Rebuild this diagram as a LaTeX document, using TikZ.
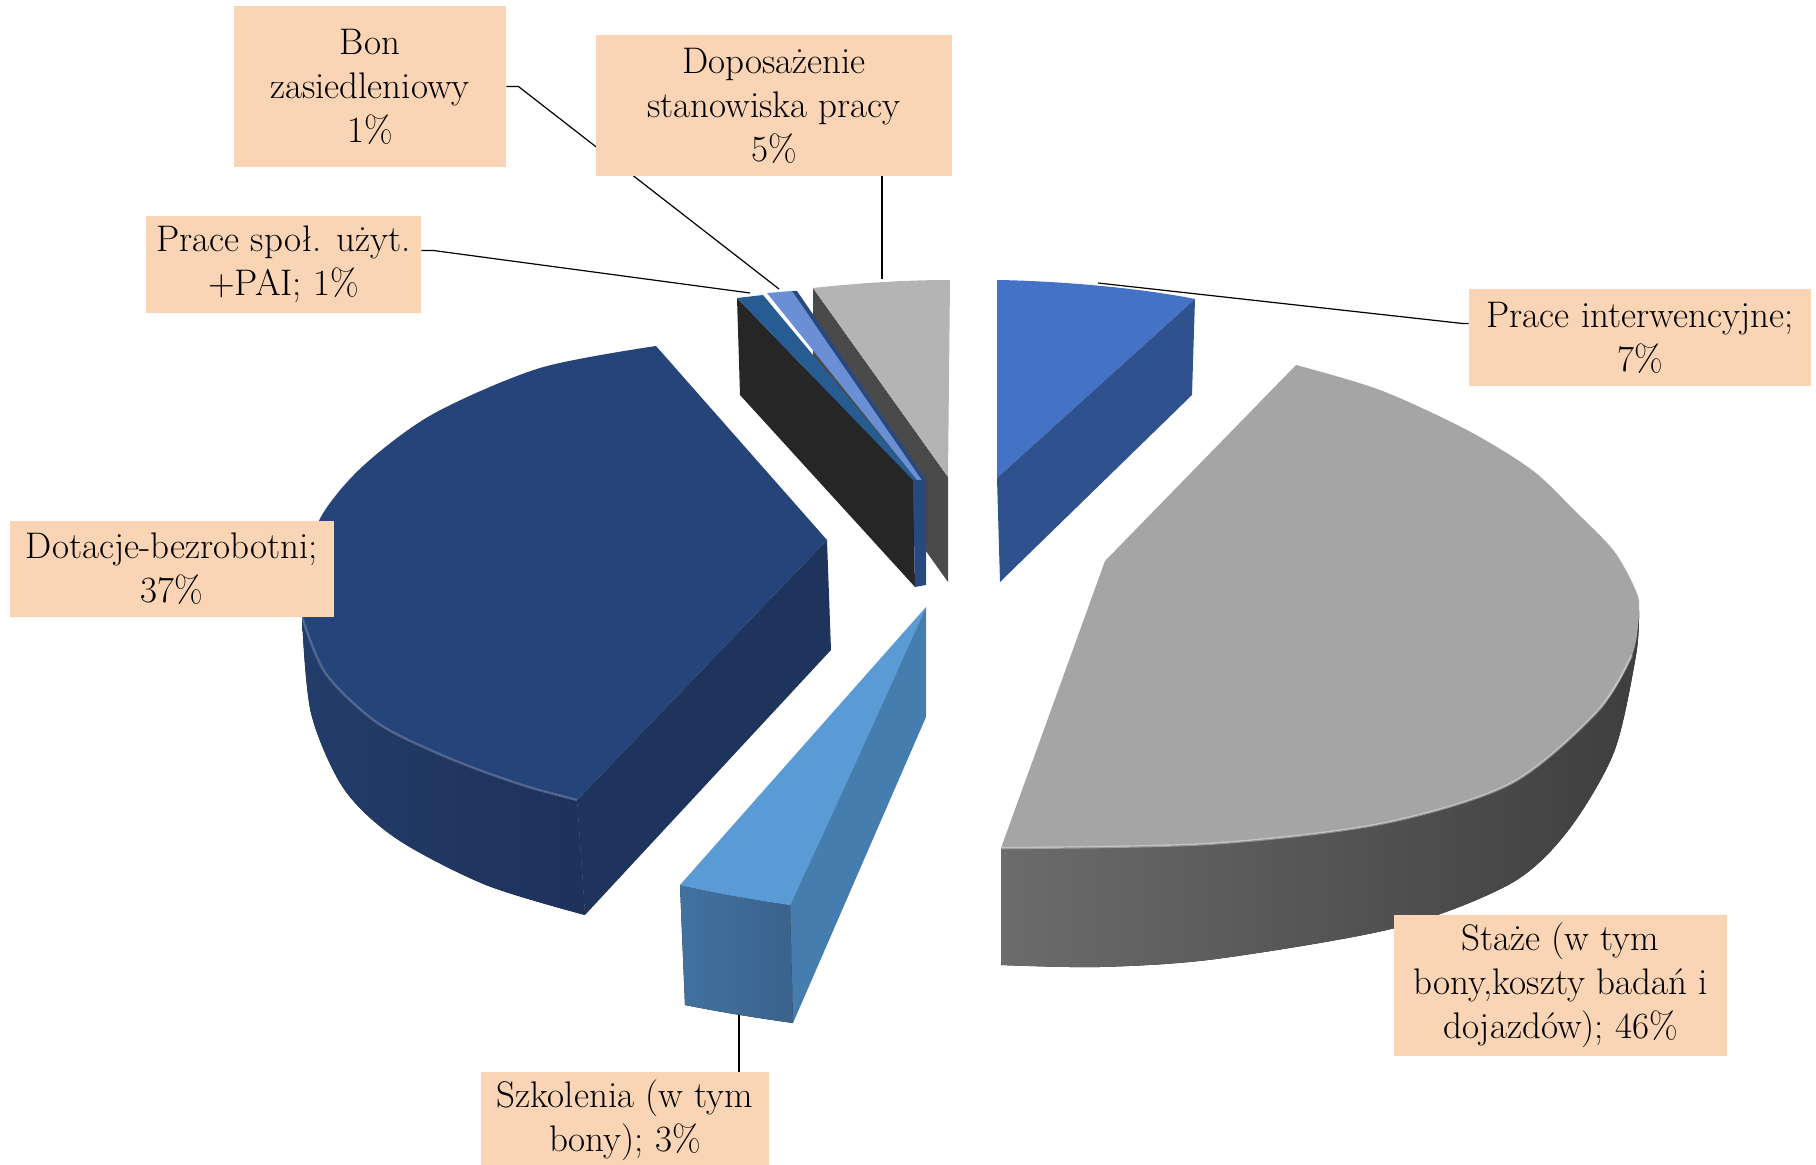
\documentclass[tikz,border=0pt]{standalone}
\usepackage{fontspec}
\usepackage{xcolor}
\usepackage{tikz}
\definecolor{peach}{RGB}{250,213,181}
\definecolor{stazetop}{RGB}{165,165,165}
\definecolor{stazewallL}{RGB}{108,108,108}
\definecolor{stazewallR}{RGB}{62,62,62}
\definecolor{interwtop}{RGB}{68,114,196}
\definecolor{interwside}{RGB}{47,82,143}
\definecolor{dotactop}{RGB}{37,68,122}
\definecolor{dotacside}{RGB}{31,52,92}
\definecolor{dotacwallL}{RGB}{35,60,106}
\definecolor{dotacwallR}{RGB}{30,50,90}
\definecolor{szkoltop}{RGB}{91,155,213}
\definecolor{szkolside}{RGB}{70,125,175}
\definecolor{szkolwallL}{RGB}{66,114,160}
\definecolor{szkolwallR}{RGB}{58,98,140}
\definecolor{dopostop}{RGB}{180,180,180}
\definecolor{doposside}{RGB}{74,74,74}
\definecolor{spoltop}{RGB}{38,92,146}
\definecolor{spolside}{RGB}{38,38,38}
\definecolor{bontop}{RGB}{106,143,212}
\definecolor{bonside}{RGB}{40,72,128}
\tikzset{>=latex,
    callout/.style={fill=peach, align=center, inner sep=0pt,
      font=\fontsize{18.5}{22}\selectfont},
    leader/.style={draw=black, line width=0.6pt},
    bevel/.style={draw=white, opacity=0.35, line width=1.2pt}}

\begin{document}
\begin{tikzpicture}[x=0.5pt, y=-0.5pt]
    \useasboundingbox (0,0) rectangle (1816,1165);
    % leaders first, boxes go over them
    \coordinate (bontip) at (779,289);
    \coordinate (spoltip) at (750,293);
    \coordinate (dopostip) at (882,279);
    \coordinate (interwtip) at (1098,283);
    \coordinate (szkoltip) at (739,1015);
    % Staze
    \fill[left color=stazewallL, right color=stazewallR]
      plot[smooth] coordinates {(1001,848) (1207,844) (1380,824) (1510,784) (1597,712) (1632,655) (1639,611)}
      -- plot[smooth] coordinates {(1639,611) (1636,655) (1614,752) (1567,832) (1510,884) (1395,928) (1216,959) (1100,967) (1001,965)}
      -- cycle;
    \fill[stazetop] (1105,561) -- (1296,365)
      -- plot[smooth] coordinates {(1296,365) (1380,390) (1467,430) (1532,470) (1575,511) (1614,551) (1636,591) (1639,611) (1632,655) (1597,712) (1510,784) (1380,824) (1207,844) (1001,848)}
      -- cycle;
    \draw[bevel] plot[smooth] coordinates {(1632,655) (1597,712) (1510,784) (1380,824) (1207,844) (1001,848)};
    % Prace interwencyjne
    \fill[interwtop] (997,280) .. controls (1060,281) and (1140,288) .. (1195,299) -- (997,478) -- cycle;
    \fill[interwside] (997,478) -- (1195,299) -- (1192,395) -- (1000,582) -- cycle;
    % Dotacje
    \fill[left color=dotacwallL, right color=dotacwallR]
      plot[smooth] coordinates {(302,617) (326,674) (379,724) (451,759) (522,785) (577,800)}
      -- (585,915)
      -- plot[smooth] coordinates {(585,915) (486,885) (397,839) (344,789) (311,713) (302,617)}
      -- cycle;
    \fill[dotactop] (656,346) -- (827,540) -- (577,800)
      -- plot[smooth] coordinates {(577,800) (522,785) (451,759) (379,724) (326,674) (302,617) (305,566) (322,515) (363,466) (433,414) (540,368) (656,346)}
      -- cycle;
    \draw[bevel, opacity=0.2] plot[smooth] coordinates {(302,617) (326,674) (379,724) (451,759) (522,785) (577,800)};
    \fill[dotacside] (827,540) -- (831,650) -- (585,915) -- (577,800) -- cycle;
    % Szkolenia
    \fill[szkolside] (926,607) -- (926,717) -- (793,1023) -- (790,905) -- cycle;
    \fill[left color=szkolwallL, right color=szkolwallR]
      (680,885) .. controls (715,893) and (755,900) .. (790,905) -- (793,1023)
      .. controls (757,1018) and (720,1012) .. (685,1005) -- cycle;
    \fill[szkoltop] (926,607) -- (680,885) .. controls (715,893) and (755,900) .. (790,905)
      .. controls (830,820) and (880,710) .. (926,607) -- cycle;
    % Doposazenie
    \fill[doposside] (813,288) -- (948,477) -- (948,582) -- (813,393) -- cycle;
    \fill[dopostop] (813,288) .. controls (860,283) and (905,280) .. (950,280) -- (948,477) -- cycle;
    % Prace spol. i Bon
    \fill[spolside] (737,298) -- (913,480) -- (915,587) -- (740,395) -- cycle;
    \fill[bonside] (913,480) -- (926,480) -- (926,585) -- (915,587) -- cycle;
    \fill[spoltop] (737,298) -- (763,295) -- (917,480) -- (913,480) -- cycle;
    \fill[bontop] (767,293) -- (792,291) -- (922,480) -- (917,480) -- cycle;
    \fill[bonside] (792,291) -- (797,291) -- (926,480) -- (922,480) -- cycle;
    % boxes
    \node[callout, minimum width=136pt, minimum height=80.5pt] (bon) at (370,86.5)
      {Bon\\zasiedleniowy\\1\%};
    \node[callout, minimum width=137.5pt, minimum height=48.5pt] (spol) at (283.5,264.5)
      {Prace społ. użyt.\\+PAI; 1\%};
    \draw[leader] (bon.east) -- ++(12,0) -- (bontip);
    \draw[leader] ([yshift=7pt]spol.east) -- ++(12,0) -- (spoltip);
    \node[callout, minimum width=178pt, minimum height=70.5pt] (dopos) at (774,105.5)
      {Doposażenie\\stanowiska pracy\\5\%};
    \draw[leader] (dopos.south -| dopostip) -- (dopostip);
    \node[callout, minimum width=171pt, minimum height=48.5pt] (interw) at (1640,337.5)
      {Prace interwencyjne;\\7\%};
    \draw[leader] ([yshift=7pt]interw.west) -- ++(-6,0) -- (interwtip);
    \node[callout, minimum width=162pt, minimum height=48pt] (dotacje) at (172,569)
      {Dotacje-bezrobotni;\\37\%};
    \node[callout, minimum width=166.5pt, minimum height=70.5pt] (staze) at (1560.5,985.5)
      {Staże (w tym\\bony,koszty badań i\\dojazdów); 46\%};
    \node[callout, minimum width=144pt, minimum height=48pt] (szkol) at (625,1120)
      {Szkolenia (w tym\\bony); 3\%};
    \draw[leader] (szkol.north -| szkoltip) -- (szkoltip);
\end{tikzpicture}
\end{document}
